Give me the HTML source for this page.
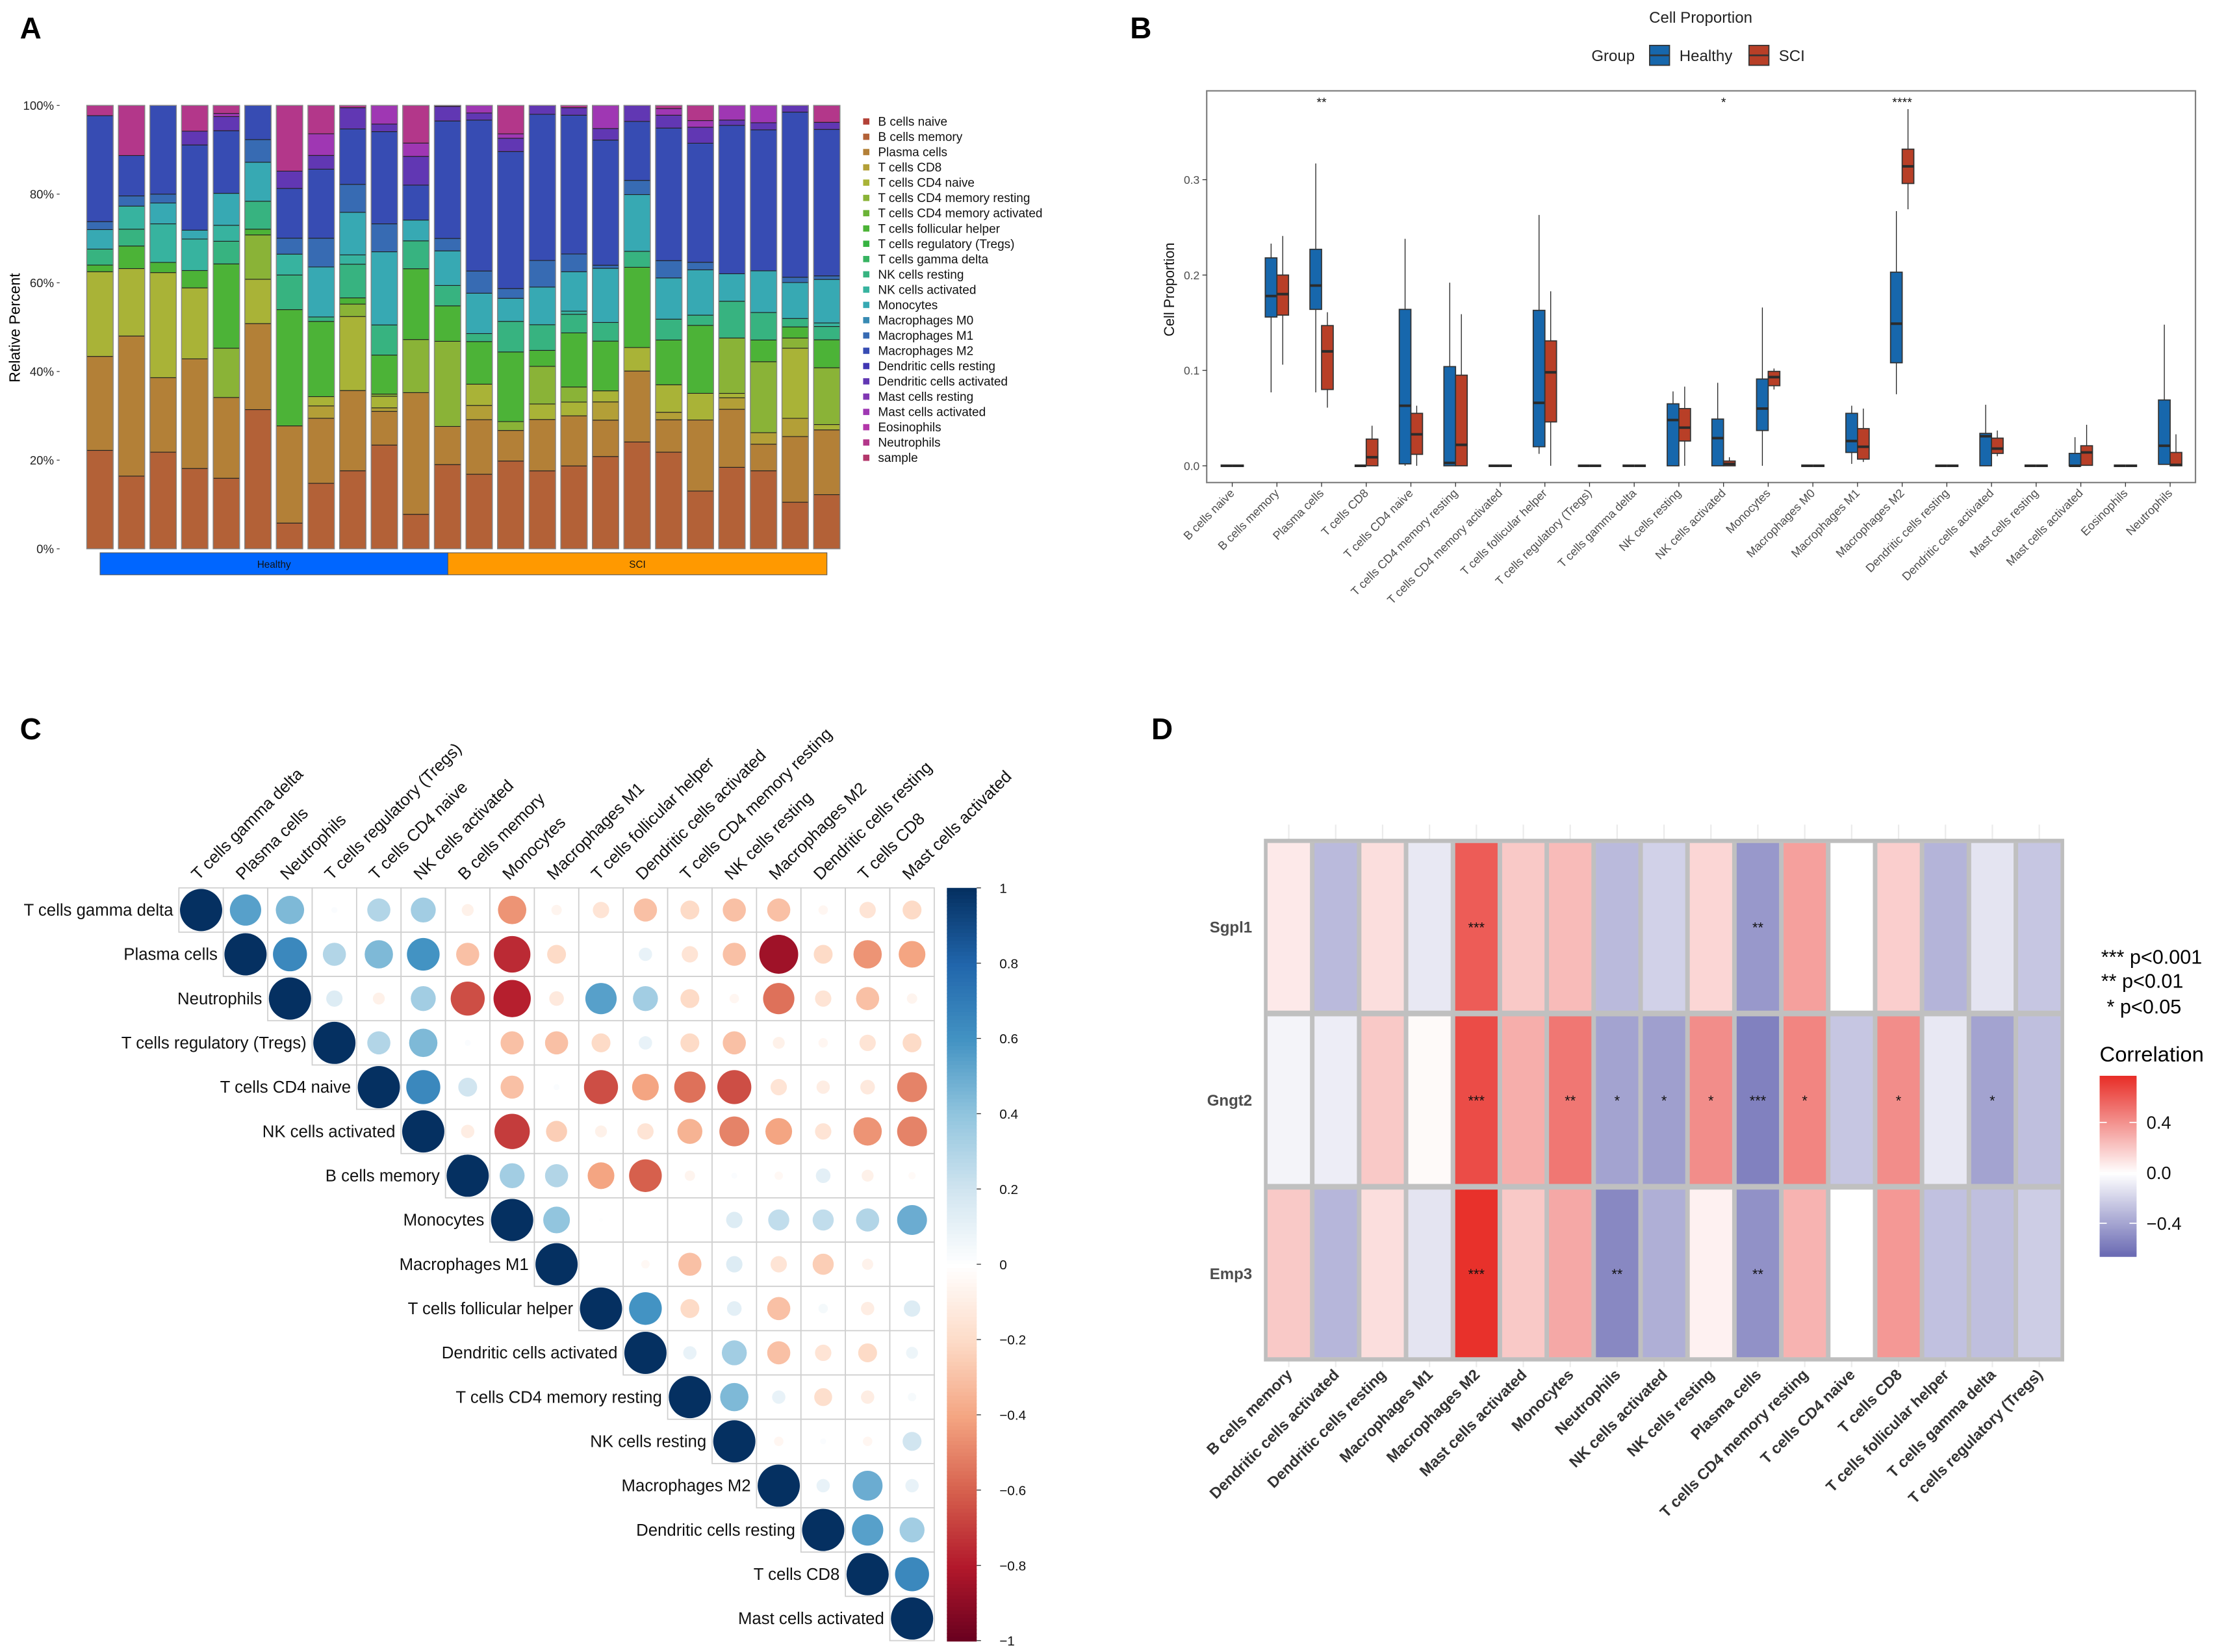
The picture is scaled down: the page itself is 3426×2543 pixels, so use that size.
<!DOCTYPE html>
<html><head><meta charset="utf-8">
<style>
html,body{margin:0;padding:0;background:#fff;}
svg{display:block;font-family:"Liberation Sans",Arial,sans-serif;}
</style></head>
<body>
<svg id="fig" xmlns="http://www.w3.org/2000/svg" width="3426" height="2543" viewBox="0 0 1568 1164" preserveAspectRatio="none">
<rect x="0" y="0" width="1568" height="1164" fill="#fff"/>
<text x="14" y="27" font-size="21" font-weight="bold">A</text>
<text x="796" y="27" font-size="21" font-weight="bold">B</text>
<text x="14" y="521" font-size="21" font-weight="bold">C</text>
<text x="811" y="521" font-size="21" font-weight="bold">D</text>
<text transform="translate(14,231) rotate(-90)" text-anchor="middle" font-size="10.5">Relative Percent</text>
<text x="1198" y="16" text-anchor="middle" font-size="11" fill="#222">Cell Proportion</text>
<text x="1121" y="43" font-size="11" fill="#222">Group</text>
<text transform="translate(827,204) rotate(-90)" text-anchor="middle" font-size="10" fill="#111">Cell Proportion</text>
<text x="1480" y="679" font-size="14">***  p&lt;0.001</text>
<text x="1480" y="696" font-size="14">**  p&lt;0.01</text>
<text x="1484" y="714" font-size="14">*  p&lt;0.05</text>
<text x="1479" y="748" font-size="15">Correlation</text>
</svg>
<script>
const NS="http://www.w3.org/2000/svg";
const svg=document.getElementById('fig');
function mk(tag,attrs,txt){const e=document.createElementNS(NS,tag);for(const k in attrs)e.setAttribute(k,attrs[k]);if(txt!==undefined)e.textContent=txt;svg.appendChild(e);return e;}

/* ================= PANEL A data ================= */
const cellTypes=["B cells naive","B cells memory","Plasma cells","T cells CD8","T cells CD4 naive","T cells CD4 memory resting","T cells CD4 memory activated","T cells follicular helper","T cells regulatory (Tregs)","T cells gamma delta","NK cells resting","NK cells activated","Monocytes","Macrophages M0","Macrophages M1","Macrophages M2","Dendritic cells resting","Dendritic cells activated","Mast cells resting","Mast cells activated","Eosinophils","Neutrophils","sample"];
const groups=["Healthy","SCI"];
const groupSizes=[11,13];
const sample01=[[1,22.2],[2,21.2],[4,19.1],[7,1.5],[10,3.6],[12,4.4],[14,1.8],[15,23.9],[21,2.3]];
const sample02=[[1,16.4],[2,31.6],[4,15.2],[7,5.1],[10,3.8],[11,5.2],[14,2.3],[15,9.1],[21,11.3]];
const sample03=[[1,21.8],[2,16.8],[4,23.7],[7,2.3],[11,8.7],[12,4.7],[14,2.0],[15,20.0]];
const sample04=[[1,18.1],[2,24.7],[4,16.0],[7,3.9],[11,7.1],[12,2.0],[15,19.2],[17,3.1],[21,5.8]];
const sample05=[[1,15.9],[2,18.2],[5,11.1],[7,19.0],[10,5.1],[11,3.6],[12,7.2],[15,14.1],[17,3.2],[19,0.7],[21,1.8]];
const sample06=[[1,31.4],[2,19.4],[4,10.0],[5,10.0],[7,1.3],[10,6.3],[12,8.8],[14,5.1],[15,7.7]];
const sample07=[[1,5.8],[2,21.9],[7,26.2],[10,7.8],[11,4.7],[14,3.6],[15,11.2],[17,3.9],[21,14.8]];
const sample08=[[1,14.8],[2,14.7],[3,2.8],[4,2.1],[7,17.0],[10,1.0],[12,11.3],[14,6.5],[15,15.6],[17,3.1],[19,4.9],[21,6.4]];
const sample09=[[1,17.6],[2,18.1],[4,16.7],[5,2.8],[7,1.4],[10,7.6],[11,2.1],[12,9.6],[14,6.3],[15,12.5],[17,4.8],[21,0.5]];
const sample10=[[1,23.4],[2,7.6],[3,0.8],[4,2.6],[5,0.5],[7,8.8],[10,6.8],[12,16.5],[14,6.3],[15,20.8],[17,1.7],[19,4.2]];
const sample11=[[1,7.8],[2,27.5],[5,12.0],[7,16.0],[10,6.3],[12,4.7],[15,7.9],[17,6.5],[19,3.0],[21,8.5]];
const sample12=[[1,19.0],[2,8.6],[5,19.2],[7,8.0],[10,4.6],[12,7.8],[14,2.8],[15,26.5],[17,3.3],[21,0.2]];
const sample13=[[1,16.8],[2,12.3],[3,3.2],[4,4.8],[7,9.6],[10,1.8],[12,9.1],[14,5.0],[15,34.0],[17,1.6],[19,1.7]];
const sample14=[[1,19.8],[2,6.9],[5,2.0],[7,15.7],[10,6.9],[12,5.2],[14,2.2],[15,30.9],[17,3.0],[19,1.0],[21,6.4]];
const sample15=[[1,17.6],[2,11.6],[4,3.5],[5,8.5],[7,3.6],[10,5.8],[12,8.5],[14,6.0],[15,33.0],[17,2.0]];
const sample16=[[1,18.7],[2,11.3],[4,3.1],[5,3.4],[7,12.2],[10,4.2],[11,0.7],[12,8.9],[14,4.0],[15,31.3],[17,1.7],[21,0.5]];
const sample17=[[1,20.8],[2,8.2],[3,4.1],[4,2.5],[7,11.2],[10,4.2],[12,12.2],[14,0.7],[15,28.2],[17,2.6],[19,5.2]];
const sample18=[[1,24.1],[2,16.0],[4,5.3],[7,18.1],[10,3.6],[12,12.8],[14,3.2],[15,13.3],[17,3.6]];
const sample19=[[1,21.8],[2,7.3],[3,1.7],[4,6.2],[7,10.1],[10,4.7],[12,9.3],[14,3.9],[15,29.9],[17,2.9],[19,1.5],[21,0.7]];
const sample20=[[1,13.0],[2,16.0],[4,6.0],[7,15.3],[10,2.3],[12,10.2],[14,1.7],[15,26.8],[17,3.6],[19,1.5],[21,3.4]];
const sample21=[[1,18.4],[2,13.1],[3,2.6],[4,1.0],[5,12.5],[10,8.3],[12,6.2],[15,33.5],[17,1.2],[19,3.3]];
const sample22=[[1,17.6],[2,6.0],[3,2.6],[5,16.0],[7,4.9],[10,6.2],[12,9.4],[15,31.8],[17,1.6],[19,3.9]];
const sample23=[[1,10.5],[2,14.8],[3,4.1],[4,15.8],[5,2.3],[7,2.5],[10,1.9],[12,8.1],[14,1.2],[15,37.2],[17,1.5]];
const sample24=[[1,12.2],[2,14.6],[4,1.2],[5,12.8],[7,6.3],[10,3.0],[11,0.8],[12,9.8],[14,0.8],[15,33.0],[17,1.6],[21,3.8]];
const samples=[sample01,sample02,sample03,sample04,sample05,sample06,sample07,sample08,sample09,sample10,sample11,sample12,sample13,sample14,sample15,sample16,sample17,sample18,sample19,sample20,sample21,sample22,sample23,sample24];
const pctTicks=["0%","20%","40%","60%","80%","100%"];

function typeColor(i){return "hsl("+(5+15*i)+",53%,46%)";}
const aY0=386.7,aY1=74.3,aX0=61.1,aStep=22.26,aW=18.6;
function aY(p){return aY0-(aY0-aY1)*p/100;}
pctTicks.forEach((t,i)=>{const v=i*20;
  const tk=mk('text',{x:38,y:aY(v)+3,'text-anchor':'end','font-size':8.5,fill:'#222'},t);
  
  
  const ln=mk('line',{x1:40,x2:42,y1:aY(v),y2:aY(v),stroke:'#444','stroke-width':0.6});
  
  
});
samples.forEach((segs,si)=>{
  const total=segs.reduce((a,s)=>a+s[1],0);
  let cum=0;const x=aX0+si*aStep;
  segs.forEach(s=>{
    const p0=cum/total*100;cum+=s[1];const p1=cum/total*100;
    const r=mk('rect',{x:x,y:aY(p1),width:aW,height:aY(p0)-aY(p1),fill:typeColor(s[0]),stroke:'#222','stroke-width':0.5});
    
    
  });
  const o=mk('rect',{x:x,y:aY1,width:aW,height:aY0-aY1,fill:'none',stroke:'#888','stroke-width':0.6});
  
  
});
(function(){
  const gcol=['#0066FF','#FF9900'];
  groups.forEach((g,gi)=>{
    const xs=gi===0?70.5:315.5, xe=gi===0?315.5:582.5;
    const r=mk('rect',{x:xs,y:389.5,width:xe-xs,height:15.5,fill:gcol[gi],stroke:'#555','stroke-width':0.5});
    
    
    const t=mk('text',{x:(xs+xe)/2,y:400,'text-anchor':'middle','font-size':7,fill:'#111'},g);
    
    
  });
})();
cellTypes.forEach((c,i)=>{
  const y=85.6+i*10.77;
  const sq=mk('rect',{x:608,y:y-2.2,width:4.4,height:4.4,fill:typeColor(i)});
  
  
  const t=mk('text',{x:618.5,y:y+3,'font-size':8.7,fill:'#111'},c);
  
  
});

/* ================= PANEL B data ================= */
const boxCats=["B cells naive","B cells memory","Plasma cells","T cells CD8","T cells CD4 naive","T cells CD4 memory resting","T cells CD4 memory activated","T cells follicular helper","T cells regulatory (Tregs)","T cells gamma delta","NK cells resting","NK cells activated","Monocytes","Macrophages M0","Macrophages M1","Macrophages M2","Dendritic cells resting","Dendritic cells activated","Mast cells resting","Mast cells activated","Eosinophils","Neutrophils"];
const hLow =[0,0.077,0.077,0,0,0,0,0.0125,0,0,0,0,0,0,0.002,0.075,0,0,0,0,0,0.001];
const hQ1  =[0,0.156,0.164,0,0.002,0,0,0.020,0,0,0,0,0.037,0,0.014,0.108,0,0,0,0,0,0.0015];
const hMed =[0,0.178,0.189,0,0.063,0.003,0,0.066,0,0,0.048,0.029,0.060,0,0.026,0.149,0,0.031,0,0,0,0.021];
const hQ3  =[0,0.218,0.227,0,0.164,0.104,0,0.163,0,0,0.065,0.049,0.091,0,0.055,0.203,0,0.034,0,0.013,0,0.069];
const hHigh=[0,0.233,0.317,0,0.238,0.192,0,0.263,0,0,0.078,0.087,0.166,0,0.063,0.267,0,0.064,0,0.030,0,0.148];
const sLow =[0,0.106,0.061,0,0,0,0,0,0,0,0,0,0.080,0,0.004,0.269,0,0.010,0,0,0,0];
const sQ1  =[0,0.158,0.080,0,0.012,0,0,0.046,0,0,0.026,0,0.084,0,0.007,0.296,0,0.013,0,0.0005,0,0];
const sMed =[0,0.180,0.120,0.009,0.033,0.022,0,0.098,0,0,0.040,0.002,0.093,0,0.020,0.314,0,0.018,0,0.014,0,0.001];
const sQ3  =[0,0.200,0.147,0.028,0.055,0.095,0,0.131,0,0,0.060,0.005,0.099,0,0.039,0.332,0,0.029,0,0.021,0,0.014];
const sHigh=[0,0.241,0.161,0.042,0.063,0.159,0,0.183,0,0,0.083,0.009,0.102,0,0.060,0.374,0,0.037,0,0.043,0,0.033];
const sigCats=[2,11,15];
const sigLabels=["**","*","****"];
const propTicks=[0,0.1,0.2,0.3];
const groupColors=["#1767AC","#B83F27"];

const bL=850,bR=1546.5,bT=64,bB=340;
function bY(v){return 328.2-v*672;}
function bX(i){return 868+i*31.46;}
const frame=mk('rect',{x:bL,y:bT,width:bR-bL,height:bB-bT,fill:'#fff',stroke:'#7f7f7f','stroke-width':1});


propTicks.forEach(v=>{
  const t=mk('text',{x:845,y:bY(v)+3,'text-anchor':'end','font-size':8,fill:'#4d4d4d'},v.toFixed(1));
  
  
  const l=mk('line',{x1:847,x2:850,y1:bY(v),y2:bY(v),stroke:'#333','stroke-width':0.6});
  
  
});
function drawBox(cx,lo,q1,md,q3,hi,col,name){
  const w=8.2;
  const wl=mk('line',{x1:cx,x2:cx,y1:bY(hi),y2:bY(lo),stroke:'#222','stroke-width':0.6});
  
  
  const r=mk('rect',{x:cx-w/2,y:bY(q3),width:w,height:Math.max(0,bY(q1)-bY(q3)),fill:col,stroke:'#333','stroke-width':0.8});
  
  
  const m=mk('line',{x1:cx-w/2,x2:cx+w/2,y1:bY(md),y2:bY(md),stroke:'#2b2b2b','stroke-width':1.8});
  
  
}
boxCats.forEach((c,i)=>{
  const slug=c.replace(/[^A-Za-z0-9]+/g,'-').toLowerCase();
  drawBox(bX(i)-4.1,hLow[i],hQ1[i],hMed[i],hQ3[i],hHigh[i],groupColors[0],'box-healthy-'+slug);
  drawBox(bX(i)+4.1,sLow[i],sQ1[i],sMed[i],sQ3[i],sHigh[i],groupColors[1],'box-sci-'+slug);
  const tk=mk('line',{x1:bX(i),x2:bX(i),y1:bB,y2:bB+3,stroke:'#333','stroke-width':0.6});
  
  
  const t=mk('text',{transform:'translate('+(bX(i)+2)+','+(bB+8)+') rotate(-45)','text-anchor':'end','font-size':8.3,fill:'#4d4d4d'},c);
  
  
});
sigCats.forEach((ci,k)=>{
  const t=mk('text',{x:bX(ci),y:75,'text-anchor':'middle','font-size':9,fill:'#111'},sigLabels[k]);
  
  
});
groups.forEach((g,gi)=>{
  const x=gi===0?1162:1232;
  const r=mk('rect',{x:x,y:32,width:14,height:14,fill:groupColors[gi],stroke:'#333','stroke-width':0.8});
  
  
  const m=mk('line',{x1:x,x2:x+14,y1:39,y2:39,stroke:'#333','stroke-width':1.2});
  
  
  const t=mk('text',{x:x+21,y:43,'font-size':11,fill:'#222'},g);
  
  
});

/* ================= PANEL C data ================= */
const corrVars=["T cells gamma delta","Plasma cells","Neutrophils","T cells regulatory (Tregs)","T cells CD4 naive","NK cells activated","B cells memory","Monocytes","Macrophages M1","T cells follicular helper","Dendritic cells activated","T cells CD4 memory resting","NK cells resting","Macrophages M2","Dendritic cells resting","T cells CD8","Mast cells activated"];
const corrRow01=[1,0.55,0.45,0.02,0.3,0.35,-0.08,-0.45,-0.06,-0.15,-0.3,-0.2,-0.3,-0.3,-0.05,-0.15,-0.2];
const corrRow02=[1,0.65,0.3,0.45,0.6,-0.3,-0.75,-0.2,0.0,0.1,-0.15,-0.3,-0.85,-0.2,-0.45,-0.4];
const corrRow03=[1,0.15,-0.08,0.35,-0.65,-0.78,-0.12,0.55,0.35,-0.2,-0.05,-0.55,-0.15,-0.3,-0.06];
const corrRow04=[1,0.3,0.45,0.02,-0.3,-0.3,-0.2,0.1,-0.2,-0.3,-0.08,-0.05,-0.15,-0.2];
const corrRow05=[1,0.65,0.2,-0.3,0.02,-0.65,-0.4,-0.55,-0.65,-0.15,-0.1,-0.12,-0.5];
const corrRow06=[1,-0.1,-0.7,-0.25,-0.08,-0.15,-0.35,-0.5,-0.4,-0.15,-0.45,-0.5];
const corrRow07=[1,0.35,0.3,-0.4,-0.6,-0.06,0.02,-0.04,0.12,-0.08,-0.03];
const corrRow08=[1,0.4,0.01,0.0,0.0,0.15,0.25,0.25,0.3,0.5];
const corrRow09=[1,0.0,-0.04,-0.3,0.15,-0.15,-0.25,-0.07,0.0];
const corrRow10=[1,0.6,-0.2,0.12,-0.3,0.05,-0.1,0.15];
const corrRow11=[1,0.1,0.35,-0.3,-0.15,-0.2,0.08];
const corrRow12=[1,0.45,0.1,-0.18,-0.1,0.04];
const corrRow13=[1,-0.05,0.02,-0.05,0.2];
const corrRow14=[1,0.1,0.5,0.1];
const corrRow15=[1,0.55,0.35];
const corrRow16=[1,0.65];
const corrRow17=[1];
const corrRows=[corrRow01,corrRow02,corrRow03,corrRow04,corrRow05,corrRow06,corrRow07,corrRow08,corrRow09,corrRow10,corrRow11,corrRow12,corrRow13,corrRow14,corrRow15,corrRow16,corrRow17];
const corrTicks=["1","0.8","0.6","0.4","0.2","0","\u22120.2","\u22120.4","\u22120.6","\u22120.8","\u22121"];

const rdbu=[[-1,[103,0,31]],[-0.8,[178,24,43]],[-0.6,[214,96,77]],[-0.4,[244,165,130]],[-0.2,[253,219,199]],[0,[255,255,255]],[0.2,[209,229,240]],[0.4,[146,197,222]],[0.6,[67,147,195]],[0.8,[33,102,172]],[1,[5,48,97]]];
function interp(stops,v){
  if(v<=stops[0][0])return 'rgb('+stops[0][1].join(',')+')';
  for(let i=1;i<stops.length;i++){if(v<=stops[i][0]){const a=stops[i-1],b=stops[i];const t=(v-a[0])/(b[0]-a[0]);
    return 'rgb('+a[1].map((c,k)=>Math.round(c+(b[1][k]-c)*t)).join(',')+')';}}
  return 'rgb('+stops[stops.length-1][1].join(',')+')';
}
const cX0=126,cY0=625.6,cW=31.3,cH=31.2;
corrRows.forEach((row,i)=>{
  row.forEach((v,k)=>{
    const j=i+k;
    const cell=mk('rect',{x:cX0+j*cW,y:cY0+i*cH,width:cW,height:cH,fill:'#fff',stroke:'#cfcfcf','stroke-width':0.8});
    
    
    const rad=0.475*cW*Math.sqrt(Math.abs(v));
    if(rad>0.3){
      const c=mk('circle',{cx:cX0+j*cW+cW/2,cy:cY0+i*cH+cH/2,r:rad,fill:interp(rdbu,v)});
      
      
    }
  });
  const t=mk('text',{x:cX0+i*cW-4,y:cY0+i*cH+cH/2+4,'text-anchor':'end','font-size':11.8,fill:'#111'},corrVars[i]);
  
  
  const ct=mk('text',{transform:'translate('+(cX0+i*cW+cW/2-2)+','+(cY0-5)+') rotate(-45)','font-size':11.8,fill:'#111'},corrVars[i]);
  
  
});
(function(){
  const x=667,w=21,y0=625.6,y1=1156;
  for(let s=0;s<200;s++){const v=1-2*s/200;
    const r=mk('rect',{x:x,y:y0+(y1-y0)*s/200,width:w,height:(y1-y0)/200+0.6,fill:interp(rdbu,v)});
    
    }
  corrTicks.forEach((t,k)=>{const y=y0+(y1-y0)*k/10;
    const l=mk('line',{x1:x+w,x2:x+w+3,y1:y,y2:y,stroke:'#333','stroke-width':0.6});
    
    
    const tx=mk('text',{x:704,y:y+3.5,'text-anchor':'start','font-size':9.5,fill:'#111'},t);
    
    });
})();

/* ================= PANEL D data ================= */
const heatCols=["B cells memory","Dendritic cells activated","Dendritic cells resting","Macrophages M1","Macrophages M2","Mast cells activated","Monocytes","Neutrophils","NK cells activated","NK cells resting","Plasma cells","T cells CD4 memory resting","T cells CD4 naive","T cells CD8","T cells follicular helper","T cells gamma delta","T cells regulatory (Tregs)"];
const heatRows=["Sgpl1","Gngt2","Emp3"];
const heatSgpl1=[0.08,-0.3,0.12,-0.1,0.6,0.2,0.25,-0.3,-0.2,0.15,-0.45,0.35,0.0,0.18,-0.33,-0.12,-0.25];
const heatGngt2=[-0.05,-0.08,0.2,0.02,0.66,0.3,0.5,-0.4,-0.42,0.42,-0.55,0.45,-0.25,0.42,-0.1,-0.4,-0.28];
const heatEmp3=[0.2,-0.32,0.12,-0.12,0.76,0.2,0.32,-0.52,-0.35,0.05,-0.48,0.28,0.0,0.38,-0.27,-0.28,-0.22];
const starsSgpl1=["","","","","***","","","","","","**","","","","","",""];
const starsGngt2=["","","","","***","","**","*","*","*","***","*","","*","","*",""];
const starsEmp3=["","","","","***","","","**","","","**","","","","","",""];
const heatVals=[heatSgpl1,heatGngt2,heatEmp3];
const heatStars=[starsSgpl1,starsGngt2,starsEmp3];
const heatTicks=[0.4,0.0,-0.4];

const hstops=[[-0.66,[104,104,178]],[0,[255,255,255]],[0.77,[232,46,40]]];
const dL=891.3,dR=1453,dT=592,dB=958.3;
const dW=(dR-dL)/17,dH=(dB-dT)/3;
heatCols.forEach((c,j)=>{
  const gl=mk('line',{x1:dL+dW*(j+0.5),x2:dL+dW*(j+0.5),y1:581,y2:dB+5,stroke:'#ebebeb','stroke-width':1});
  
  
});
const dbg=mk('rect',{x:dL,y:dT,width:dR-dL,height:dB-dT,fill:'#c0c0c0',stroke:'#bdbdbd','stroke-width':2});


heatVals.forEach((row,i)=>{
  row.forEach((v,j)=>{
    const r=mk('rect',{x:dL+j*dW+1.6,y:dT+i*dH+2,width:dW-3.2,height:dH-4,fill:interp(hstops,v)});
    
    
    if(heatStars[i][j]){
      const t=mk('text',{x:dL+j*dW+dW/2,y:dT+i*dH+dH/2+4,'text-anchor':'middle','font-size':10,fill:'#111'},heatStars[i][j]);
      
      
    }
  });
  const t=mk('text',{x:882,y:dT+i*dH+dH/2+4,'text-anchor':'end','font-size':11,'font-weight':'bold',fill:'#4d4d4d'},heatRows[i]);
  
  
});
heatCols.forEach((c,j)=>{
  const t=mk('text',{transform:'translate('+(dL+dW*(j+0.5)+3)+','+(dB+11)+') rotate(-45)','text-anchor':'end','font-size':10.8,'font-weight':'bold',fill:'#333'},c);
  
  
});
(function(){
  const x=1479,w=26,yTop=758,yBot=885,vTop=0.77,vBot=-0.66;
  const yOf=v=>yTop+(vTop-v)/(vTop-vBot)*(yBot-yTop);
  for(let s=0;s<120;s++){const v=vTop-(vTop-vBot)*s/120;
    const r=mk('rect',{x:x,y:yTop+(yBot-yTop)*s/120,width:w,height:(yBot-yTop)/120+0.6,fill:interp(hstops,v)});
    
    }
  heatTicks.forEach(v=>{const y=yOf(v);
    const l1=mk('line',{x1:x,x2:x+5,y1:y,y2:y,stroke:'#fff','stroke-width':0.8});
    
    
    const l2=mk('line',{x1:x+w-5,x2:x+w,y1:y,y2:y,stroke:'#fff','stroke-width':0.8});
    
    
    const t=mk('text',{x:x+w+7,y:y+4.5,'font-size':12.5,fill:'#111'},v===0?'0.0':(v<0?'\u2212'+Math.abs(v).toFixed(1):v.toFixed(1)));
    
    });
})();
</script>
</body></html>
